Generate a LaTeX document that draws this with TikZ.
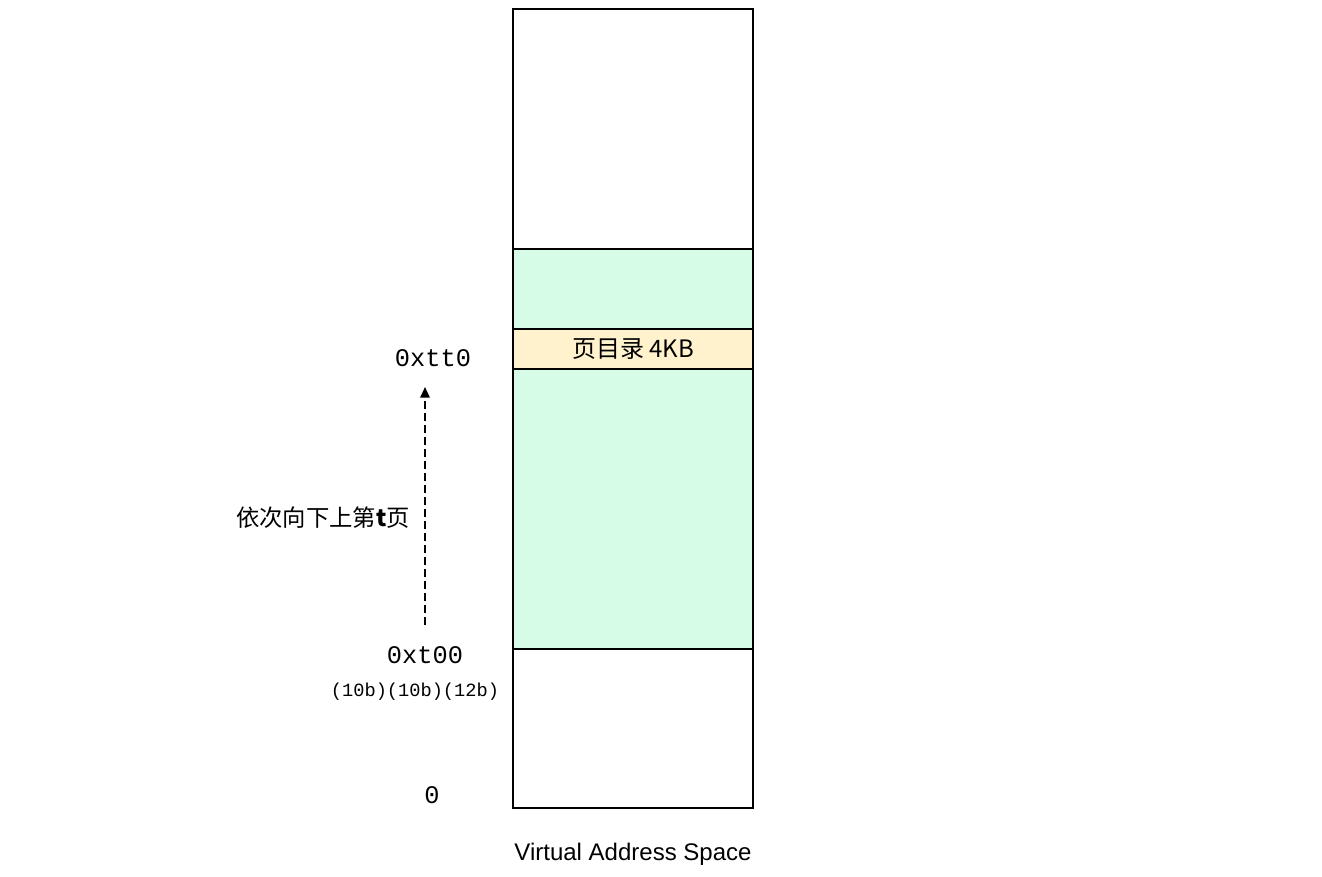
\documentclass[tikz,border=0pt]{standalone}
\usepackage{fontspec}
\setmainfont{Liberation Sans}
\newfontfamily\cjk{Noto Sans CJK SC}
\newfontfamily\mono{Liberation Mono}
\usetikzlibrary{positioning}
\usetikzlibrary{arrows.meta}
\definecolor{mint}{HTML}{D6FBE6}
\definecolor{cream}{HTML}{FFF2CC}

\begin{document}
\begin{tikzpicture}[
  x = 0.75pt,
  y = -0.75pt,
  seg/.style = {
    draw,
    line width = 1.5pt,
    fill = white,
    outer sep = 0pt,
    inner sep = 0pt,
    minimum width = 180pt,
  },
  addr/.style = {
    font = \mono\fontsize{19pt}{22pt}\selectfont,
    inner sep = 0pt,
  },
  >={Triangle[length=8pt,width=7pt]},
]

  \useasboundingbox (0,0) rectangle (1322,876);

  % address space column
  \node[seg, minimum height = 180pt] (top) at (633,129) {};
  \node[seg, fill = mint, minimum height = 60pt, below = 0pt of top] (upper) {};
  \node[seg, fill = cream, minimum height = 30pt, below = 0pt of upper,
        font = \cjk\fontsize{18pt}{20pt}\selectfont] (pgdir) {页目录 4KB};
  \node[seg, fill = mint, minimum height = 210pt, below = 0pt of pgdir] (lower) {};
  \node[seg, minimum height = 119.25pt, below = 0pt of lower] (bottom) {};
  \node[below = 35pt of bottom, anchor = center,
        font = \fontsize{18pt}{20pt}\selectfont] (vas) {Virtual Address Space};

  % addresses
  \node[addr] (hi) at (433,358) {0xtt0};
  \node[addr] (lo) at (425,655) {0xt00};
  \node[addr, font = \mono\fontsize{14pt}{16pt}\selectfont] (bits) at (415,692) {(10b)(10b)(12b)};
  \node[addr] (zero) at (432,795) {0};

  % walk direction
  \coordinate (from) at (425,625);
  \coordinate (to) at (425,387);
  \draw[->, line width = 1.4pt, dash pattern = on 6pt off 3pt] (from) -- (to);
  \node[font = \cjk\fontsize{17.5pt}{20pt}\selectfont] (walk) at (323,518) {依次向下上第\textbf{t}页};

\end{tikzpicture}
\end{document}
